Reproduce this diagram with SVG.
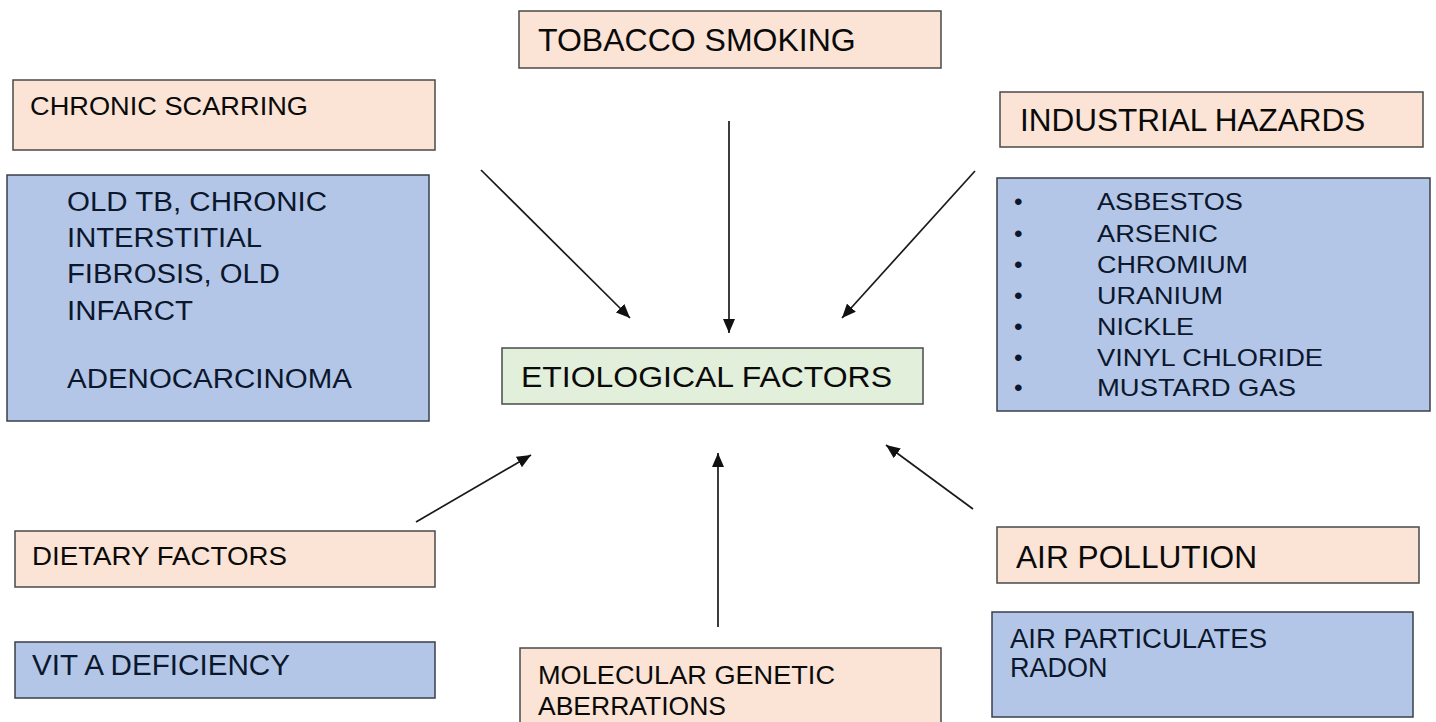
<svg xmlns="http://www.w3.org/2000/svg" width="1436" height="722" viewBox="0 0 1436 722">
<defs>
<marker id="ah" viewBox="0 0 14 12" refX="14" refY="6" markerWidth="14" markerHeight="12" markerUnits="userSpaceOnUse" orient="auto">
<path d="M0,0 L14,6 L0,12 z" fill="#111"/>
</marker>
<style>
.peach{fill:#fbe4d6;stroke:#4a4a4a;stroke-width:1.5}
.blue{fill:#b4c6e7;stroke:#3a3f4a;stroke-width:1.5}
.green{fill:#e2efda;stroke:#4a4a4a;stroke-width:1.5}
text{font-family:"Liberation Sans",Arial,sans-serif}
.dk{fill:#0a0a0a}
.nv{fill:#0b172c}
.conn line{stroke:#1a1a1a;stroke-width:1.7;marker-end:url(#ah)}
</style>
</defs>
<rect width="1436" height="722" fill="#ffffff"/>
<g id="tobacco"><rect class="peach" x="519" y="11" width="422" height="57"/><text class="dk" x="538" y="51" font-size="32">TOBACCO SMOKING</text></g>
<g id="chronic-scarring"><rect class="peach" x="13" y="80" width="422" height="70"/><text class="dk" x="30" y="115" font-size="25.5" textLength="278" lengthAdjust="spacingAndGlyphs">CHRONIC SCARRING</text></g>
<g id="scarring-detail"><rect class="blue" x="7" y="175" width="422" height="246"/>
<g class="nv" font-size="27">
<text x="67" y="211" textLength="260" lengthAdjust="spacingAndGlyphs">OLD TB, CHRONIC</text>
<text x="67" y="247" textLength="195" lengthAdjust="spacingAndGlyphs">INTERSTITIAL</text>
<text x="67" y="283" textLength="213" lengthAdjust="spacingAndGlyphs">FIBROSIS, OLD</text>
<text x="67" y="320" textLength="126" lengthAdjust="spacingAndGlyphs">INFARCT</text>
<text x="67" y="388" textLength="285" lengthAdjust="spacingAndGlyphs">ADENOCARCINOMA</text>
</g></g>
<g id="industrial"><rect class="peach" x="1000" y="92" width="423" height="55"/><text class="dk" x="1020" y="131" font-size="31.5">INDUSTRIAL HAZARDS</text></g>
<g id="industrial-detail"><rect class="blue" x="997" y="178" width="433" height="233"/>
<g class="nv" font-size="24.5">
<text x="1014" y="210">•</text><text x="1097" y="210" textLength="146" lengthAdjust="spacingAndGlyphs">ASBESTOS</text>
<text x="1014" y="242">•</text><text x="1097" y="242" textLength="121" lengthAdjust="spacingAndGlyphs">ARSENIC</text>
<text x="1014" y="273">•</text><text x="1097" y="273" textLength="151" lengthAdjust="spacingAndGlyphs">CHROMIUM</text>
<text x="1014" y="304">•</text><text x="1097" y="304" textLength="126" lengthAdjust="spacingAndGlyphs">URANIUM</text>
<text x="1014" y="335">•</text><text x="1097" y="335" textLength="97" lengthAdjust="spacingAndGlyphs">NICKLE</text>
<text x="1014" y="366">•</text><text x="1097" y="366" textLength="226" lengthAdjust="spacingAndGlyphs">VINYL CHLORIDE</text>
<text x="1014" y="396">•</text><text x="1097" y="396" textLength="199" lengthAdjust="spacingAndGlyphs">MUSTARD GAS</text>
</g></g>
<g id="etiological"><rect class="green" x="502" y="348" width="421" height="56"/><text class="dk" x="521" y="387" font-size="30" textLength="371" lengthAdjust="spacingAndGlyphs">ETIOLOGICAL FACTORS</text></g>
<g id="dietary"><rect class="peach" x="15" y="531" width="420" height="56"/><text class="dk" x="32" y="565" font-size="25.5" textLength="255" lengthAdjust="spacingAndGlyphs">DIETARY FACTORS</text></g>
<g id="vit-a"><rect class="blue" x="15" y="642" width="420" height="56"/><text class="nv" x="32" y="675" font-size="29.5" textLength="258" lengthAdjust="spacingAndGlyphs">VIT A DEFICIENCY</text></g>
<g id="molecular"><rect class="peach" x="520" y="648" width="421" height="80"/><g class="dk" font-size="26.5"><text x="538" y="684" textLength="297" lengthAdjust="spacingAndGlyphs">MOLECULAR GENETIC</text><text x="538" y="715">ABERRATIONS</text></g></g>
<g id="air-pollution"><rect class="peach" x="997" y="527" width="422" height="56"/><text class="dk" x="1016" y="568" font-size="31.5" textLength="241" lengthAdjust="spacingAndGlyphs">AIR POLLUTION</text></g>
<g id="air-detail"><rect class="blue" x="992" y="612" width="421" height="105"/><g class="nv" font-size="27"><text x="1010" y="648" textLength="257" lengthAdjust="spacingAndGlyphs">AIR PARTICULATES</text><text x="1010" y="677">RADON</text></g></g>
<g id="connectors" class="conn">
<line x1="481" y1="170" x2="630" y2="318"/>
<line x1="729" y1="121" x2="729" y2="333"/>
<line x1="975" y1="171" x2="842" y2="318"/>
<line x1="416" y1="522" x2="531" y2="455"/>
<line x1="718" y1="627" x2="718" y2="453"/>
<line x1="973" y1="509" x2="886" y2="445"/>
</g>
</svg>
